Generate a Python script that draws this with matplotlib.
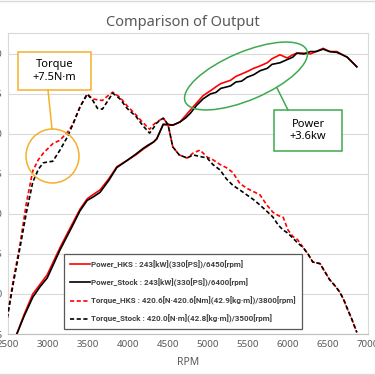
import matplotlib
matplotlib.use("Agg")
import matplotlib.pyplot as plt
from matplotlib.patches import Rectangle, Ellipse
from matplotlib.lines import Line2D

plt.rcParams['font.family'] = ['Noto Sans', 'DejaVu Sans']

# power curves [kW]
rpm_p = [2610, 2700, 2810, 2900, 2990, 3150, 3300, 3400, 3490, 3560, 3650, 3760, 3860, 3990,
         4100, 4190, 4250, 4320, 4360, 4440, 4500, 4560, 4650, 4720, 4780, 4860, 4940, 5030,
         5100, 5160, 5280, 5350, 5420, 5490, 5570, 5650, 5740, 5800, 5900, 5990, 6060, 6110,
         6200, 6280, 6350, 6440, 6520, 6610, 6680, 6740, 6800, 6860]
power_stock = [65, 76, 88, 94.5, 100, 117.5, 132, 142, 148.5, 150.5, 153.5, 161, 169, 173.5,
               177.5, 181, 183, 185, 187, 196, 196, 195.5, 197.5, 200, 203, 208, 212, 215,
               216, 218.5, 220, 222.5, 223, 225.5, 227, 229.5, 231, 233.5, 234.5, 236.5, 238, 240.5,
               240, 241.5, 241.5, 243, 241.5, 241, 239.5, 238, 235, 232]
power_hks = [65, 77, 90, 96, 102, 119, 133.5, 143, 149.5, 152, 155, 162, 169.5, 173.5,
             177, 180.5, 182.5, 185, 187, 196, 195.5, 195.5, 197.5, 201.5, 205, 209.5, 214, 217,
             219.5, 221.5, 223.5, 226, 227.5, 229, 231, 232.5, 234.5, 237, 239.5, 237.5, 239.5, 240.5,
             240.5, 240, 241.5, 243.5, 241.5, 241.5, 239.5, 238, 235, 232]

# torque curves [N·m]
rpm_t = [2490, 2560, 2650, 2730, 2810, 2880, 2940, 3000, 3060, 3150, 3240, 3310, 3400, 3490,
         3560, 3620, 3680, 3750, 3810, 3900, 3990, 4100, 4190, 4270, 4320, 4360, 4440, 4500,
         4560, 4640, 4740, 4810, 4900, 4990, 5060, 5150, 5230, 5310, 5400, 5490, 5570, 5650,
         5730, 5810, 5880, 5940, 6000, 6060, 6120, 6190, 6250, 6310, 6400, 6460, 6520, 6590,
         6650, 6700, 6740, 6800, 6860]
torque_stock = [350, 360, 372, 383, 392.5, 396.5, 398.5, 398.8, 399, 402.5, 406.5, 410.5, 416, 420,
                418, 415.5, 415.3, 418, 420.3, 418.5, 415.5, 413, 410, 407.8, 409.5, 411, 412.5, 410.5,
                403.5, 401, 400, 401, 400.5, 400, 398, 396.3, 393.5, 391.5, 390, 388.4, 387, 385.3,
                383.5, 381.6, 379, 377.5, 376.5, 375, 373.5, 372, 370, 367.5, 367, 364.5, 362, 360,
                358, 355.5, 353, 349.5, 345.5]
torque_hks = [350, 361, 373, 386, 396, 399.5, 401.5, 403, 404.5, 405.6, 408, 410.5, 416, 420,
              418.5, 418.2, 418, 419.5, 420.6, 419, 416.3, 413.5, 411, 409, 410.5, 411.3, 412.5, 410.5,
              403.5, 401, 400, 401.5, 402.5, 400.3, 399.5, 398, 397, 395.5, 392, 390.5, 389.5, 388.5,
              385.5, 383.1, 382, 381.5, 377.5, 375.5, 374.5, 372, 370, 367.5, 367, 364.5, 362, 360,
              358, 355.5, 353, 349.5, 345.5]

labels = [
    "Power_HKS : 243[kW](330[PS])/6450[rpm]",
    "Power_Stock : 243[kW](330[PS])/6400[rpm]",
    "Torque_HKS : 420.6[N·420.6[Nm](42.9[kg·m])/3800[rpm]",
    "Torque_Stock : 420.0[N·m](42.8[kg·m])/3500[rpm]",
]
x_ticks = list(range(2500, 7001, 500))
power_ticks = [65 + 25 * i for i in range(8)]

grid_c = '#d9d9d9'
text_c = '#595959'

fig = plt.figure(figsize=(3.75, 3.75), dpi=100)
W = 375.0


def fx(x):
    return x / W


def fy(y):
    return 1 - y / W


ax = fig.add_axes([fx(8), fy(334), fx(368) - fx(8), fy(33) - fy(334)])
ax.set_xlim(2500, 7000)
ax.set_ylim(65, 253.1)
ax.set_xticks(x_ticks)
ax.set_yticks(power_ticks)
ax.grid(axis='y', color=grid_c, lw=0.8)
ax.set_axisbelow(True)
ax.tick_params(length=0, labelsize=7, colors=text_c, pad=4)
for s in ax.spines.values():
    s.set_color(grid_c)
    s.set_linewidth(0.8)
ax.spines['bottom'].set_color('#bfbfbf')
ax.set_xlabel("RPM", fontsize=7.5, color=text_c, labelpad=6)

l1, = ax.plot(rpm_p, power_hks, color='red', lw=1.2)
l2, = ax.plot(rpm_p, power_stock, color='black', lw=1.2)

ax2 = ax.twinx()
ax2.set_ylim(345, 439.1)
ax2.set_yticks([])
for s in ax2.spines.values():
    s.set_visible(False)
l3, = ax2.plot(rpm_t, torque_hks, color='red', lw=1.2, ls=(0, (2.5, 1.5)))
l4, = ax2.plot(rpm_t, torque_stock, color='black', lw=1.2, ls=(0, (2.5, 1.5)))

leg = ax2.legend([l1, l2, l3, l4], labels, loc='upper left',
                 bbox_to_anchor=((64 - 8) / 360, (334 - 254) / 301),
                 borderaxespad=0, fancybox=False, framealpha=1, edgecolor='#595959',
                 prop={'family': 'Roboto', 'size': 5.8, 'weight': 'bold'},
                 handlelength=2.5, handletextpad=0.1, labelspacing=1.2,
                 borderpad=0.75)
leg.get_frame().set_linewidth(0.9)
for t in leg.get_texts():
    t.set_color('#404040')

fig.text(fx(183), fy(22), "Comparison of Output", ha='center', va='center',
         fontsize=10.5, color=text_c)

# torque callout
orange = '#F5B02B'
fig.add_artist(Rectangle((fx(18), fy(90)), fx(73), 38 / W, transform=fig.transFigure,
                         fc='white', ec=orange, lw=1.1))
fig.text(fx(54.5), fy(71), "Torque\n+7.5N·m", ha='center', va='center', fontsize=8,
         color='black', linespacing=1.2)
fig.add_artist(Line2D([fx(48), fx(52)], [fy(90), fy(129)], transform=fig.transFigure,
                      color=orange, lw=1.1))
fig.add_artist(Ellipse((fx(52.5), fy(156)), 53 / W, 54 / W, transform=fig.transFigure,
                       fill=False, ec=orange, lw=1.1))

# power callout
green = '#3DAA4E'
fig.add_artist(Ellipse((fx(246), fy(76)), 132 / W, 48 / W, angle=23, transform=fig.transFigure,
                       fill=False, ec=green, lw=1.1))
fig.add_artist(Line2D([fx(277), fx(288)], [fy(88), fy(110)], transform=fig.transFigure,
                      color=green, lw=1.1))
fig.add_artist(Rectangle((fx(274), fy(151)), fx(68), 41 / W, transform=fig.transFigure,
                         fc='white', ec=green, lw=1.1))
fig.text(fx(308), fy(130.5), "Power\n+3.6kw", ha='center', va='center', fontsize=8,
         color='black', linespacing=1.2)

# outer chart border
for yy in (1, 374):
    fig.add_artist(Line2D([0, 1], [fy(yy), fy(yy)], transform=fig.transFigure,
                          color=grid_c, lw=1))

fig.savefig("out.png", dpi=100)
